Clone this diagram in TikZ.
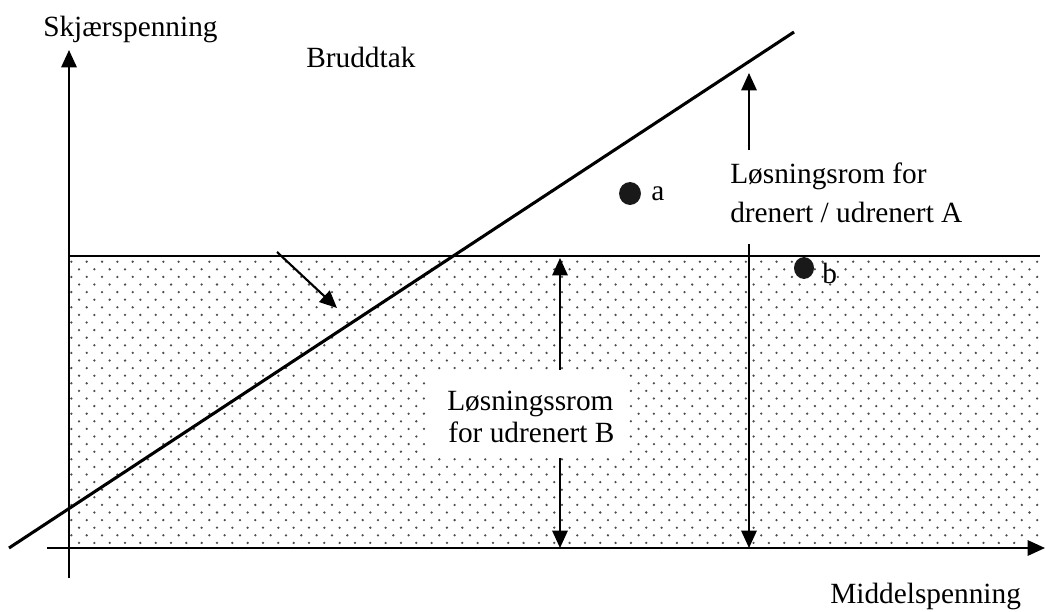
\documentclass[tikz,border=0pt]{standalone}
\usepackage{fontspec}
\setmainfont{Liberation Serif}
\usetikzlibrary{arrows.meta}
\begin{document}
\begin{tikzpicture}[x=0.75pt,y=-0.75pt,
  axisline/.style={line width=1.5pt},
  tipend/.style={-{Triangle[length=13pt,width=11.5pt]}},
  dbltip/.style={{Triangle[length=13pt,width=11.5pt]}-{Triangle[length=13pt,width=11.5pt]}},
  lbl/.style={font=\fontsize{22pt}{26pt}\selectfont, inner sep=0pt, anchor=base west},
  whitebox/.style={fill=white, draw=none, inner sep=0pt},
  dotc/.style={fill=black!70},
  bigdot/.style={fill=black!90}]
\useasboundingbox (0,0) rectangle (1046,611);

% dotted region
\begin{scope}
  \clip (70,257) rectangle (1040,547);
  \foreach \i in {0,...,38}{
    \pgfmathsetmacro{\yy}{261.7+7.6*\i}
    \pgfmathsetmacro{\xo}{63.7+7.67*(1-mod(\i,2))}
    \foreach \j in {0,...,64}{
      \fill[dotc] (\xo+15.33*\j,\yy) circle (0.95pt);
    }
  }
\end{scope}

% coordinates
\coordinate (ybot) at (69,578);
\coordinate (ytop) at (69,50);
\coordinate (xleft) at (47,548);
\coordinate (xright) at (1045,548);
\coordinate (hl) at (69,256);
\coordinate (hr) at (1040,256);
\coordinate (fl1) at (9,548);
\coordinate (fl2) at (794,32);
\coordinate (sa1) at (277,252);
\coordinate (sa2) at (337,308);
\coordinate (Btop) at (560,258);
\coordinate (Bbot) at (560,548);
\coordinate (Atop) at (749,73);
\coordinate (Abot) at (749,548);

% axes and lines
\draw[axisline, tipend] (ybot) -- (ytop);
\draw[axisline, tipend] (xleft) -- (xright);
\draw[line width=1.5pt] (hl) -- (hr);
\draw[line width=2.3pt] (fl1) -- (fl2);
\draw[line width=1.6pt, tipend] (sa1) -- (sa2);
\draw[line width=1.4pt, dbltip] (Btop) -- (Bbot);
\draw[line width=1.4pt, dbltip] (Atop) -- (Abot);

% white boxes
\node[whitebox, minimum width=149pt, minimum height=66pt] (Bbox) at (526,413.5) {};
\node[whitebox, minimum width=184pt, minimum height=70pt] (Abox) at (848,197) {};

% points
\fill[bigdot] (630,193.5) ellipse [x radius=8.2pt, y radius=8.6pt];
\node[lbl] (la) at (651,200) {a};
\fill[bigdot] (804,268) ellipse [x radius=7.5pt, y radius=8.2pt];
\node[lbl] (lb) at (822,283) {b};

% labels
\node[lbl] (ylab) at (43,36) {Skjærspenning};
\node[lbl] (xlab) at (830,603) {Middelspenning};
\node[lbl] (brudd) at (306,67) {Bruddtak};
\node[lbl] (A1) at (730,183) {Løsningsrom for};
\node[lbl] (A2) at (730,222) {drenert / udrenert A};
\node[lbl] (B1) at (447,410) {Løsningssrom};
\node[lbl] (B2) at (448,442) {for udrenert B};
\end{tikzpicture}
\end{document}
